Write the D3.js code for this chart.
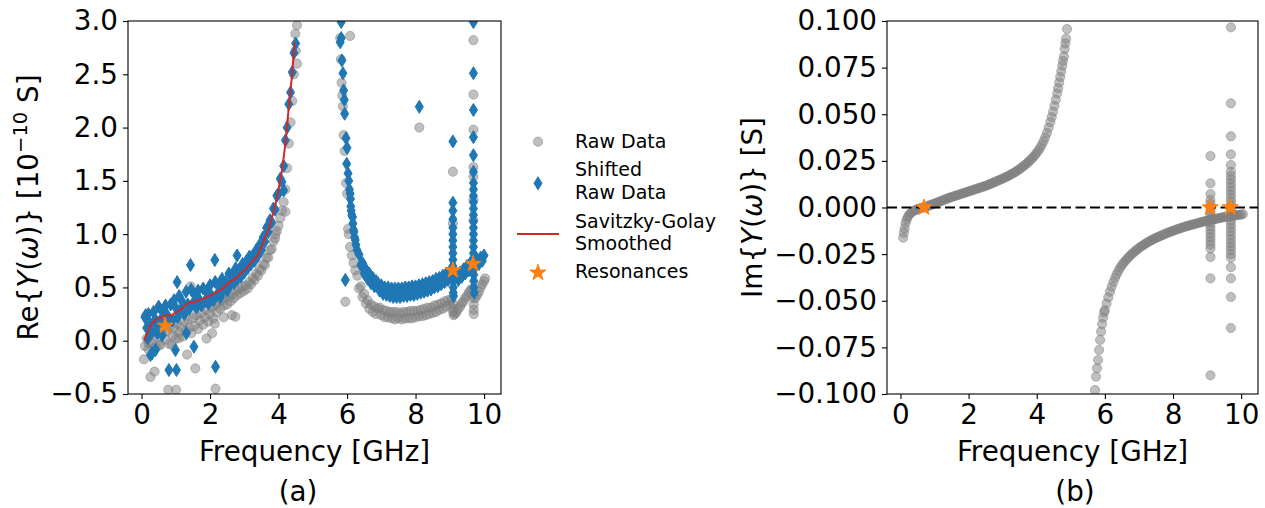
<!DOCTYPE html>
<html><head><meta charset="utf-8">
<script src="https://cdn.jsdelivr.net/npm/d3@7"></script>
<style>body{margin:0;background:#fff} text{font-family:"DejaVu Sans",sans-serif;fill:#000}</style>
</head><body><svg id="c" width="1265" height="508"></svg>
<script>
// ---------- DATA ----------
const freqTicks = [0, 2, 4, 6, 8, 10];
const reTicks = [-0.5, 0.0, 0.5, 1.0, 1.5, 2.0, 2.5, 3.0];
const imTicks = [-0.1, -0.075, -0.05, -0.025, 0.0, 0.025, 0.05, 0.075, 0.1];
const legendLabels = [['Raw Data'], ['Shifted', 'Raw Data'], ['Savitzky-Golay', 'Smoothed'], ['Resonances']];

// low-frequency sampling grid (GHz)
const lowFreq = [0.10,0.15,0.20,0.25,0.30,0.35,0.40,0.45,0.50,0.55,
 0.60,0.65,0.70,0.75,0.80,0.85,0.90,0.95,1.00,1.05,
 1.10,1.15,1.20,1.25,1.30,1.35,1.40,1.45,1.50,1.55,
 1.60,1.65,1.70,1.75,1.80,1.85,1.90,1.95,2.00,2.05,
 2.10,2.15,2.20,2.25,2.30,2.35,2.40,2.45,2.50,2.55,
 2.60,2.65,2.70,2.75,2.80,2.85,2.90,2.95,3.00,3.05,
 3.10,3.15,3.20,3.25,3.30,3.35,3.40,3.45,3.50,3.55,
 3.60,3.65,3.70,3.75,3.80,3.85,3.90,3.95,4.00,4.05,
 4.10,4.15,4.20,4.25,4.30,4.35,4.40,4.45,4.50];
const rawLowRe = [-0.05,0.02,-0.08,0.05,-0.02,0.08,-0.06,0.03,0.10,-0.04,
 0.06,0.12,0.01,0.09,-0.03,0.14,0.05,0.11,0.02,0.16,
 0.08,0.13,0.04,0.18,0.10,0.20,0.12,0.07,0.21,0.14,
 0.24,0.11,0.19,0.26,0.15,0.22,0.29,0.18,0.25,0.31,
 0.21,0.33,0.27,0.36,0.30,0.38,0.33,0.41,0.34,0.41,
 0.37,0.44,0.40,0.47,0.43,0.49,0.45,0.51,0.47,0.52,
 0.49,0.55,0.53,0.59,0.57,0.63,0.61,0.67,0.66,0.72,
 0.71,0.78,0.78,0.85,0.86,0.93,0.96,1.03,1.08,1.15,
 1.22,1.30,1.42,1.62,1.85,2.05,2.25,2.50,2.72];
const shiftedLowRe = [0.22,0.12,0.25,0.16,0.08,0.27,0.20,0.14,0.32,0.19,
 0.28,0.15,0.33,0.24,0.20,0.34,0.19,0.38,0.31,0.22,
 0.42,0.29,0.36,0.25,0.46,0.34,0.30,0.48,0.35,0.43,
 0.31,0.47,0.38,0.33,0.49,0.37,0.46,0.35,0.52,0.42,
 0.38,0.55,0.43,0.52,0.41,0.58,0.48,0.55,0.47,0.63,
 0.53,0.62,0.54,0.68,0.58,0.66,0.60,0.72,0.64,0.74,
 0.68,0.79,0.72,0.80,0.75,0.85,0.80,0.90,0.85,0.97,
 0.93,1.06,1.02,1.13,1.11,1.24,1.23,1.36,1.38,1.52,
 1.49,1.64,1.88,2.00,2.22,2.33,2.52,2.70,2.79];

// scattered raw points [GHz, 1e-10 S]
const rawOutliers = [[0.07,-0.175],[0.26,-0.34],[0.38,-0.29],[0.78,-0.46],[1.01,-0.46],[1.57,-0.26],
 [2.16,-0.45],[1.33,-0.13],[1.90,0.02],[2.14,0.16],[2.64,0.24],[2.74,0.225],[1.43,0.51],[0.21,-0.025],
 [0.50,-0.04],[0.89,-0.04],[1.09,0.023],[2.06,0.07],[2.40,0.22],[4.20,1.21],[4.54,2.60],[4.49,2.88],
 [3.91,1.00],[4.54,2.96],[6.09,2.86],[5.95,0.366],[8.11,2.00]];
const rawHigh = [[5.80,2.84],[5.82,2.64],[5.84,2.42],[5.86,2.30],[5.88,2.20],[5.90,1.93],[5.93,1.78],
 [5.97,1.48],[6.00,1.38],[6.03,1.05],[6.05,1.00],[6.09,0.88],[6.14,0.80],[6.19,0.73],[6.24,0.66],
 [6.30,0.61],[6.35,0.49],[6.40,0.51],[6.45,0.41],[6.50,0.44],[6.55,0.35],[6.60,0.38],[6.65,0.30],
 [6.70,0.34],[6.75,0.27],[6.80,0.32],[6.85,0.25],[6.90,0.30],
 [6.95,0.31],[7.00,0.24],[7.05,0.29],[7.10,0.22],[7.15,0.28],[7.20,0.22],[7.25,0.27],[7.30,0.21],
 [7.35,0.27],[7.40,0.20],[7.45,0.27],[7.50,0.21],[7.55,0.26],[7.60,0.20],[7.65,0.27],[7.70,0.21],
 [7.75,0.27],[7.80,0.21],[7.85,0.28],[7.90,0.21],[7.95,0.28],[8.00,0.22],[8.05,0.28],[8.10,0.23],
 [8.15,0.29],[8.20,0.23],[8.25,0.30],[8.30,0.24],[8.35,0.31],[8.40,0.25],[8.45,0.31],[8.50,0.26],
 [8.55,0.33],[8.60,0.27],[8.65,0.34],[8.70,0.29],[8.75,0.35],[8.80,0.30],[8.85,0.37],[8.90,0.32],
 [8.95,0.38],[9.00,0.34],[9.05,0.39],
 [9.09,1.586],[9.09,1.10],[9.10,0.34],[9.10,0.30],[9.10,0.27],[9.11,0.24],
 [9.15,0.25],[9.20,0.27],[9.25,0.30],[9.30,0.32],[9.35,0.35],[9.40,0.37],[9.45,0.40],[9.50,0.42],
 [9.55,0.45],[9.60,0.47],[9.65,0.49],
 [9.69,2.82],[9.69,2.31],[9.69,1.98],[9.69,1.63],[9.69,1.54],[9.69,1.32],[9.69,1.13],[9.69,0.40],
 [9.70,0.34],[9.70,0.29],[9.70,0.25],
 [9.75,0.40],[9.80,0.43],[9.85,0.46],[9.90,0.50],[9.95,0.53],[10.00,0.56],[10.03,0.585]];

const shiftedOutliers = [[1.43,0.71],[2.14,0.757],[2.79,0.80],[1.04,0.55],[0.80,-0.275],[1.02,-0.275],
 [2.16,-0.245],[1.53,-0.056],[1.31,0.07],[0.99,-0.087],[0.31,-0.118],[0.26,-0.134],[0.41,-0.087],
 [0.46,0.07],[0.12,0.24],[0.18,0.02],[0.60,0.05],[4.15,1.41],[5.95,0.57],[8.11,2.195]];
const shiftedHigh = [[5.80,2.80],[5.83,2.99],[5.83,2.84],[5.85,2.63],[5.88,2.51],[5.90,2.35],[5.92,2.26],
 [5.93,2.13],[5.97,1.90],[5.99,1.66],[6.00,1.81],[6.03,1.57],[6.05,1.50],[6.07,1.42],[6.09,1.38],
 [6.10,1.33],[6.11,1.26],[6.12,1.22],[6.14,1.18],[6.16,1.16],[6.17,1.10],[6.19,1.04],[6.20,1.02],
 [6.22,0.97],[6.24,0.945],[6.26,0.90],[6.29,0.85],
 [6.35,0.81],[6.40,0.71],[6.45,0.73],[6.50,0.63],[6.55,0.67],[6.60,0.58],[6.65,0.63],[6.70,0.54],
 [6.75,0.59],[6.80,0.51],[6.85,0.56],
 [6.90,0.54],[6.95,0.47],[7.00,0.52],[7.05,0.44],[7.10,0.50],[7.15,0.43],[7.20,0.50],[7.25,0.42],
 [7.30,0.49],[7.35,0.41],[7.40,0.49],[7.45,0.41],[7.50,0.49],[7.55,0.41],[7.60,0.49],[7.65,0.42],
 [7.70,0.50],[7.75,0.42],[7.80,0.50],[7.85,0.43],[7.90,0.51],[7.95,0.43],[8.00,0.51],[8.05,0.44],
 [8.10,0.52],[8.15,0.45],[8.20,0.53],[8.25,0.46],[8.30,0.54],[8.35,0.47],[8.40,0.55],[8.45,0.48],
 [8.50,0.56],[8.55,0.50],[8.60,0.58],[8.65,0.51],[8.70,0.59],[8.75,0.53],[8.80,0.61],[8.85,0.55],
 [8.90,0.63],[8.95,0.57],[9.00,0.65],[9.05,0.60],
 [9.09,0.70],[9.09,0.76],[9.09,0.82],[9.09,0.88],[9.09,0.94],[9.09,1.00],[9.09,1.06],[9.09,1.14],
 [9.09,1.22],[9.09,1.295],[9.09,1.87],
 [9.10,0.56],[9.10,0.50],[9.10,0.45],[9.11,0.42],
 [9.15,0.58],[9.20,0.62],[9.25,0.57],[9.30,0.64],[9.35,0.60],[9.40,0.67],[9.45,0.63],[9.50,0.70],
 [9.55,0.66],[9.60,0.73],[9.65,0.70],
 [9.69,0.76],[9.69,0.82],[9.69,0.88],[9.69,0.94],[9.69,1.00],[9.69,1.06],[9.69,1.12],[9.69,1.18],
 [9.69,1.24],[9.69,1.30],[9.69,1.36],[9.69,1.42],[9.69,1.48],[9.69,1.585],[9.69,1.74],[9.69,1.91],
 [9.69,2.165],[9.69,2.51],[9.69,2.99],
 [9.70,0.62],[9.70,0.56],[9.70,0.50],[9.71,0.45],
 [9.75,0.70],[9.80,0.76],[9.85,0.72],[9.90,0.78],[9.95,0.75],[10.00,0.80]];

// Savitzky-Golay smoothed curve
const sgFreq = [0.09,0.15,0.20,0.26,0.31,0.36,0.41,0.50,0.60,0.68,0.75,0.82,0.89,0.96,1.04,1.12,1.19,1.28,
 1.35,1.43,1.50,1.57,1.65,1.71,1.77,1.85,1.92,1.98,2.06,2.14,2.22,2.30,2.38,2.45,2.50,2.55,2.62,2.68,
 2.74,2.80,2.88,2.95,3.03,3.10,3.18,3.25,3.32,3.40,3.47,3.53,3.57,3.62,3.66,3.71,3.76,3.81,3.86,3.91,
 3.96,4.00,4.05,4.10,4.15,4.20,4.25,4.29,4.34,4.39,4.43,4.47];
const sgRe = [0.00,0.06,0.10,0.13,0.165,0.18,0.195,0.21,0.22,0.235,0.24,0.24,0.24,0.26,0.27,0.29,0.30,0.335,
 0.35,0.366,0.36,0.366,0.375,0.39,0.39,0.40,0.41,0.42,0.43,0.45,0.46,0.476,0.49,0.52,0.53,0.545,0.56,0.57,
 0.585,0.60,0.625,0.645,0.665,0.695,0.725,0.75,0.775,0.81,0.86,0.90,0.93,0.98,1.01,1.05,1.10,1.16,1.22,1.28,
 1.35,1.42,1.51,1.60,1.72,1.85,2.01,2.165,2.32,2.48,2.64,2.80];

// resonances
const resFreq = [0.69, 9.09, 9.68];
const resRe = [0.14, 0.66, 0.72];
const resIm = [0.0, 0.0, 0.0];

// Im{Y} [S]
const imMain = [[0.08,-0.0162],[0.10,-0.0135],[0.12,-0.0112],[0.15,-0.0085],[0.18,-0.0066],[0.21,-0.0052],
 [0.25,-0.0040],[0.30,-0.0030],[0.35,-0.0023],[0.40,-0.0017],[0.45,-0.0013],[0.50,-0.0009],[0.55,-0.0006],
 [0.60,-0.0003],[0.65,-0.0001],[0.70,0.0001],[0.75,0.0004],[0.80,0.0007],[0.85,0.0011],[0.90,0.0014],
 [0.95,0.0018],[1.00,0.0021],[1.05,0.0025],[1.10,0.0028],[1.15,0.0032],[1.20,0.0035],[1.25,0.0039],
 [1.30,0.0043],[1.35,0.0046],[1.40,0.0050],[1.45,0.0053],[1.50,0.0056],[1.55,0.0059],[1.60,0.0062],
 [1.65,0.0065],[1.70,0.0068],[1.75,0.0071],[1.80,0.0074],[1.85,0.0077],[1.90,0.0080],[1.95,0.0083],
 [2.00,0.0086],[2.05,0.0089],[2.10,0.0092],[2.15,0.0095],[2.20,0.0098],[2.25,0.0101],[2.30,0.0104],
 [2.35,0.0107],[2.40,0.0110],[2.45,0.0113],[2.50,0.0116],[2.55,0.0120],[2.60,0.0123],[2.65,0.0127],
 [2.70,0.0131],[2.75,0.0135],[2.80,0.0139],[2.85,0.0143],[2.90,0.0147],[2.95,0.0151],[3.00,0.0155],
 [3.05,0.0159],[3.10,0.0164],[3.15,0.0168],[3.20,0.0173],[3.25,0.0178],[3.30,0.0183],[3.35,0.0188],
 [3.40,0.0194],[3.45,0.0200],[3.50,0.0206],[3.55,0.0213],[3.60,0.0220],[3.65,0.0227],[3.70,0.0235],
 [3.75,0.0243],[3.80,0.0252],[3.85,0.0261],[3.90,0.0271],[3.95,0.0282],[4.00,0.0293],[4.05,0.0306],
 [4.10,0.0320],[4.15,0.0336],[4.20,0.0355],[4.25,0.0376],[4.30,0.0400],[4.35,0.0428],[4.40,0.0458],
 [4.44,0.0485],[4.48,0.0514],[4.52,0.0545],[4.56,0.0578],[4.60,0.0612],[4.63,0.0640],[4.66,0.0670],
 [4.69,0.0700],[4.72,0.0730],[4.75,0.0760],[4.77,0.0785],[4.80,0.0810],[4.82,0.0850],[4.84,0.0880],
 [4.86,0.0905],[4.89,0.0957],
 [5.71,-0.0979],[5.74,-0.0907],[5.77,-0.0862],[5.80,-0.0818],[5.83,-0.0764],[5.86,-0.0710],[5.89,-0.0665],
 [5.92,-0.0625],[5.95,-0.0590],[5.98,-0.0562],[6.00,-0.0550],[6.05,-0.0515],[6.10,-0.0482],[6.15,-0.0452],
 [6.20,-0.0425],[6.25,-0.0400],[6.30,-0.0377],[6.35,-0.0357],[6.40,-0.0339],[6.45,-0.0323],[6.50,-0.0309],
 [6.55,-0.0297],[6.60,-0.0286],[6.65,-0.0276],[6.70,-0.0266],[6.75,-0.0257],[6.80,-0.0248],[6.85,-0.0240],
 [6.90,-0.0232],[6.95,-0.0225],[7.00,-0.0218],[7.05,-0.0211],[7.10,-0.0205],[7.15,-0.0199],[7.20,-0.0193],
 [7.25,-0.0187],[7.30,-0.0182],[7.35,-0.0177],[7.40,-0.0172],[7.45,-0.0167],[7.50,-0.0163],[7.55,-0.0159],
 [7.60,-0.0155],[7.65,-0.0151],[7.70,-0.0147],[7.75,-0.0143],[7.80,-0.0139],[7.85,-0.0135],[7.90,-0.0132],
 [7.95,-0.0128],[8.00,-0.0125],[8.05,-0.0122],[8.10,-0.0118],[8.15,-0.0115],[8.20,-0.0112],[8.25,-0.0109],
 [8.30,-0.0106],[8.35,-0.0103],[8.40,-0.0100],[8.45,-0.0098],[8.50,-0.0095],[8.55,-0.0093],[8.60,-0.0090],
 [8.65,-0.0088],[8.70,-0.0085],[8.75,-0.0083],[8.80,-0.0080],[8.85,-0.0078],[8.90,-0.0075],[8.95,-0.0073],
 [9.00,-0.0071],[9.05,-0.0069],[9.15,-0.0065],[9.20,-0.0063],[9.25,-0.0061],[9.30,-0.0059],[9.35,-0.0057],
 [9.40,-0.0055],[9.45,-0.0053],[9.50,-0.0051],[9.55,-0.0050],[9.60,-0.0048],[9.65,-0.0047],[9.75,-0.0044],
 [9.80,-0.0043],[9.85,-0.0042],[9.90,-0.0040],[9.95,-0.0039],[10.00,-0.0038],[10.05,-0.0036]];
const imSpike1Freq = 9.10;
const imSpike1 = [0.0276,0.013,0.0072,0.004,0.002,0.000,-0.002,-0.004,-0.006,-0.008,-0.010,-0.012,-0.014,
 -0.016,-0.018,-0.020,-0.022,-0.0265,-0.038,-0.090];
const imSpike2Freq = 9.70;
const imSpike2 = [0.0966,0.0559,0.0382,0.0285,0.0228,0.0192,0.017,0.015,0.013,0.011,0.009,0.007,0.005,0.003,
 0.001,-0.001,-0.003,-0.005,-0.007,-0.009,-0.011,-0.013,-0.015,-0.017,-0.019,-0.021,-0.0228,-0.025,-0.027,
 -0.032,-0.038,-0.048,-0.0646];

// ---------- DRAWING ----------
const svg = d3.select('#c');
const GRAY = '#808080', BLUE = '#1f77b4', RED = '#d62728', ORANGE = '#ff7f0e';
const FS = 27.8, LFS = 19;
const L = {x0:128, x1:501, y0:21, y1:394};
const R = {x0:887, x1:1258, y0:21, y1:394};
const xL = d3.scaleLinear().domain([-0.395, 10.495]).range([L.x0, L.x1]);
const yL = d3.scaleLinear().domain([-0.5, 3.0]).range([L.y1, L.y0]);
const xR = d3.scaleLinear().domain([-0.395, 10.495]).range([R.x0, R.x1]);
const yR = d3.scaleLinear().domain([-0.1, 0.1]).range([R.y1, R.y0]);

const diamond = 'M0,-6.5L4,0L0,6.5L-4,0Z';
function starPath(Ro){ const ri = Ro*0.382; const p=[]; for(let i=0;i<10;i++){const a=-Math.PI/2+i*Math.PI/5; const rr=i%2?ri:Ro; p.push((rr*Math.cos(a)).toFixed(2)+','+(rr*Math.sin(a)).toFixed(2));} return 'M'+p.join('L')+'Z'; }
const star = starPath(8.5);

const defs = svg.append('defs');
defs.append('clipPath').attr('id','clipL').append('rect').attr('x',L.x0).attr('y',L.y0).attr('width',L.x1-L.x0).attr('height',L.y1-L.y0);
defs.append('clipPath').attr('id','clipR').append('rect').attr('x',R.x0).attr('y',R.y0).attr('width',R.x1-R.x0).attr('height',R.y1-R.y0);

function grayCircles(g, data, x, y){
  g.selectAll(null).data(data).enter().append('circle')
   .attr('cx',d=>x(d[0])).attr('cy',d=>y(d[1])).attr('r',4.6)
   .attr('fill',GRAY).attr('fill-opacity',0.5).attr('stroke',GRAY).attr('stroke-opacity',0.5).attr('stroke-width',1);
}
function blueDiamonds(g, data, x, y){
  g.selectAll(null).data(data).enter().append('path')
   .attr('d',diamond).attr('transform',d=>`translate(${x(d[0])},${y(d[1])})`)
   .attr('fill',BLUE).attr('stroke',BLUE).attr('stroke-width',1);
}
function stars(g, fx, fy, x, y){
  g.selectAll(null).data(fx.map((f,i)=>[f,fy[i]])).enter().append('path')
   .attr('d',star).attr('transform',d=>`translate(${x(d[0])},${y(d[1])})`)
   .attr('fill',ORANGE).attr('stroke',ORANGE).attr('stroke-width',1);
}
function axes(x, y, box, yTicks, yFmt){
  const gx = svg.append('g').attr('transform',`translate(0,${box.y1})`)
    .call(d3.axisBottom(x).tickValues(freqTicks).tickSize(5).tickPadding(5).tickFormat(d3.format('d')));
  const gy = svg.append('g').attr('transform',`translate(${box.x0},0)`)
    .call(d3.axisLeft(y).tickValues(yTicks).tickSize(5).tickPadding(5).tickFormat(yFmt));
  [gx,gy].forEach(g=>{ g.select('.domain').remove(); g.selectAll('line').attr('stroke','#000').attr('stroke-width',1.1);
    g.selectAll('text').attr('font-size',FS).attr('font-family','DejaVu Sans').attr('fill','#000'); });
  svg.append('rect').attr('x',box.x0).attr('y',box.y0).attr('width',box.x1-box.x0).attr('height',box.y1-box.y0)
    .attr('fill','none').attr('stroke','#000').attr('stroke-width',1.1);
}

// ---- left panel ----
const gL = svg.append('g').attr('clip-path','url(#clipL)');
const rawAll = lowFreq.map((f,i)=>[f,rawLowRe[i]]).concat(rawOutliers, rawHigh);
const shiftedAll = lowFreq.map((f,i)=>[f,shiftedLowRe[i]]).concat(shiftedOutliers, shiftedHigh);
grayCircles(gL, rawAll, xL, yL);
blueDiamonds(gL, shiftedAll, xL, yL);
gL.append('path').datum(sgFreq.map((f,i)=>[f,sgRe[i]]))
  .attr('d', d3.line().x(d=>xL(d[0])).y(d=>yL(d[1])))
  .attr('fill','none').attr('stroke',RED).attr('stroke-width',2);
stars(gL, resFreq, resRe, xL, yL);
axes(xL, yL, L, reTicks, d3.format('.1f'));

// ---- right panel ----
const gR = svg.append('g').attr('clip-path','url(#clipR)');
const imAll = imMain.concat(imSpike1.map(v=>[imSpike1Freq,v]), imSpike2.map(v=>[imSpike2Freq,v]));
grayCircles(gR, imAll, xR, yR);
gR.append('line').attr('x1',R.x0).attr('x2',R.x1).attr('y1',yR(0)).attr('y2',yR(0))
  .attr('stroke','#000').attr('stroke-width',2.2).attr('stroke-dasharray','10,4.5');
stars(gR, resFreq, resIm, xR, yR);
axes(xR, yR, R, imTicks, d3.format('.3f'));

// ---- labels ----
function xlabel(cx, text){ svg.append('text').attr('x',cx).attr('y',461).attr('text-anchor','middle').attr('font-size',FS).text(text); }
xlabel((L.x0+L.x1)/2, 'Frequency [GHz]');
xlabel((R.x0+R.x1)/2, 'Frequency [GHz]');
svg.append('text').attr('x',298).attr('y',501).attr('text-anchor','middle').attr('font-size',FS).text('(a)');
svg.append('text').attr('x',1075).attr('y',501).attr('text-anchor','middle').attr('font-size',FS).text('(b)');

const yl1 = svg.append('text').attr('transform',`translate(38,${(L.y0+L.y1)/2}) rotate(-90)`).attr('text-anchor','middle').attr('font-size',FS);
yl1.append('tspan').text('Re{');
yl1.append('tspan').attr('font-style','italic').text('Y');
yl1.append('tspan').text('(');
yl1.append('tspan').attr('font-style','italic').text('ω');
yl1.append('tspan').text(')} [10');
yl1.append('tspan').attr('font-size',19.5).attr('dy',-11).text('−10');
yl1.append('tspan').attr('dy',11).text(' S]');

const yl2 = svg.append('text').attr('transform',`translate(762,${(R.y0+R.y1)/2}) rotate(-90)`).attr('text-anchor','middle').attr('font-size',FS);
yl2.append('tspan').text('Im{');
yl2.append('tspan').attr('font-style','italic').text('Y');
yl2.append('tspan').text('(');
yl2.append('tspan').attr('font-style','italic').text('ω');
yl2.append('tspan').text(')} [S]');

// ---- legend ----
const lg = svg.append('g');
const LX = 538, TX = 575, LINE = 22.4;
lg.append('circle').attr('cx',LX).attr('cy',141.7).attr('r',4.6).attr('fill',GRAY).attr('fill-opacity',0.5).attr('stroke',GRAY).attr('stroke-opacity',0.5);
lg.append('path').attr('d',diamond).attr('transform',`translate(${LX},183.3)`).attr('fill',BLUE).attr('stroke',BLUE);
lg.append('line').attr('x1',517).attr('x2',559).attr('y1',234).attr('y2',234).attr('stroke',RED).attr('stroke-width',2);
lg.append('path').attr('d',star).attr('transform',`translate(${LX},272.7)`).attr('fill',ORANGE).attr('stroke',ORANGE);
const legendBase = [148.3, 176.3, 228, 278.3];
legendLabels.forEach((lines, i) => {
  const t = lg.append('text').attr('x',TX).attr('y',legendBase[i]).attr('font-size',LFS);
  lines.forEach((s, j) => t.append('tspan').attr('x',TX).attr('dy', j ? LINE : 0).text(s));
});
</script></body></html>
